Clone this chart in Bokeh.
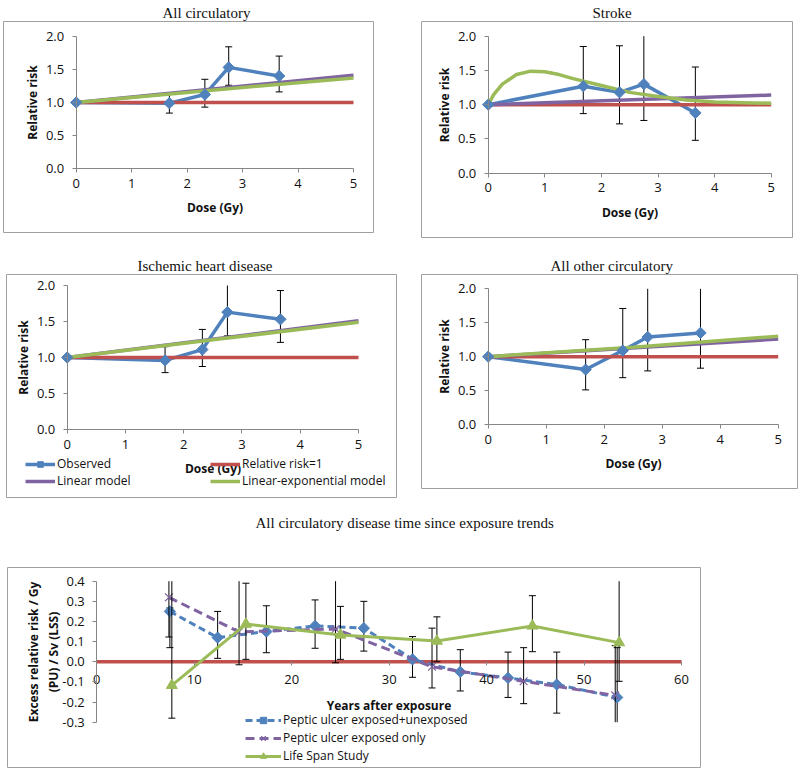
import numpy as np
from bokeh.plotting import figure
from bokeh.models import Range1d, Legend, LegendItem, FixedTicker, NumeralTickFormatter, Title
from bokeh.layouts import column, row
from bokeh.embed import file_html
from bokeh.resources import INLINE

BLUE = "#4F81BD"; RED = "#C0504D"; PURPLE = "#8064A2"; GREEN = "#9BBB59"
AXIS = "#868686"; BORDER = "#A0A0A0"
FONT = "Open Sans"; TFONT = "Liberation Serif"

# ---------------- data: dose-response panels ----------------
dose = [0, 1.68, 2.32, 2.75, 3.66]
err_dose = [1.68, 2.32, 2.75, 3.66]
dose_ticks = [0, 1, 2, 3, 4, 5]
rr_ticks = [0.0, 0.5, 1.0, 1.5, 2.0]
ref_x = [0, 5]
ref_y = [1, 1]

# All circulatory
ac_obs = [1.0, 0.99, 1.12, 1.53, 1.40]
ac_lo = [0.84, 0.93, 1.26, 1.16]
ac_hi = [1.13, 1.35, 1.84, 1.70]
ac_lin_x = [0, 5]; ac_lin_y = [1.0, 1.41]
ac_le_x = [0, 2.5, 5]; ac_le_y = [1.0, 1.19, 1.37]

# Stroke
st_obs = [1.0, 1.27, 1.18, 1.30, 0.88]
st_lo = [0.87, 0.72, 0.77, 0.48]
st_hi = [1.85, 1.86, 2.05, 1.55]
st_lin_x = [0, 5]; st_lin_y = [1.0, 1.14]
st_le_x = [0, 0.1, 0.25, 0.5, 0.75, 1.0, 1.25, 1.5, 2.0, 2.5, 3.0, 3.5, 4.0, 4.5, 5.0]
st_le_y = [1.00, 1.15, 1.30, 1.44, 1.49, 1.48, 1.44, 1.38, 1.28, 1.18, 1.12, 1.07, 1.04, 1.03, 1.02]

# Ischemic heart disease
ih_obs = [1.0, 0.96, 1.11, 1.63, 1.53]
ih_lo = [0.79, 0.875, 1.30, 1.21]
ih_hi = [1.15, 1.39, 2.02, 1.93]
ih_lin_x = [0, 5]; ih_lin_y = [1.0, 1.51]
ih_le_x = [0, 2.5, 5]; ih_le_y = [1.0, 1.245, 1.49]

# All other circulatory
ao_obs = [1.0, 0.81, 1.09, 1.29, 1.35]
ao_lo = [0.51, 0.69, 0.79, 0.83]
ao_hi = [1.25, 1.71, 2.3, 2.4]
ao_lin_x = [0, 5]; ao_lin_y = [1.0, 1.26]
ao_le_x = [0, 2.5, 5]; ao_le_y = [1.0, 1.14, 1.30]

# ---------------- data: time since exposure ----------------
year_ticks = [0, 10, 20, 30, 40, 50, 60]
err_ticks = [-0.3, -0.2, -0.1, 0.0, 0.1, 0.2, 0.3, 0.4]
zero_x = [0, 60]; zero_y = [0, 0]

pu_all_x = [7.5, 12.4, 17.4, 22.4, 27.4, 32.4, 37.3, 42.2, 47.2, 53.4]
pu_all_y = [0.25, 0.12, 0.15, 0.178, 0.167, 0.012, -0.05, -0.08, -0.113, -0.177]
pu_all_lo = [0.07, 0.017, 0.045, 0.067, 0.053, -0.077, -0.145, -0.177, -0.255, -0.40]
pu_all_hi = [0.267, 0.25, 0.278, 0.307, 0.30, 0.125, 0.06, 0.048, 0.048, 0.07]

pu_exp_x = [7.4, 14.6, 24.5, 34.4, 43.8, 53.2]
pu_exp_y = [0.32, 0.148, 0.163, -0.025, -0.097, -0.167]
pu_exp_lo = [0.123, -0.015, -0.005, -0.13, -0.208, -0.40]
pu_exp_hi = [0.45, 0.45, 0.45, 0.167, 0.07, 0.08]

lss_x = [7.7, 15.3, 25.0, 34.9, 44.7, 53.6]
lss_y = [-0.117, 0.187, 0.133, 0.103, 0.178, 0.095]
lss_lo = [-0.28, 0.012, 0.012, 0.0, 0.05, -0.097]
lss_hi = [0.45, 0.39, 0.275, 0.223, 0.328, 0.45]


def xrange_px(f0, f1, p0, p1, d0, d1):
    s = (p1 - p0) / (d1 - d0)
    return Range1d(d0 - (p0 - f0) / s, d1 + (f1 - p1) / s)


def yrange_px(top, bottom, py_hi, py_lo, d_lo, d_hi):
    s = (py_lo - py_hi) / (d_hi - d_lo)
    return Range1d(d_lo - (bottom - py_lo) / s, d_hi + (py_hi - top) / s)


def add_title(p, text, offset, standoff):
    p.add_layout(Title(text=text, text_font=TFONT, text_font_size="15px",
                       text_font_style="normal", text_color="#111111",
                       align="left", offset=offset, standoff=standoff), "above")


def make_fig(width, height, border_left, border_top, xr, yr):
    p = figure(width=width, height=height, min_border_left=border_left, min_border_right=1,
               min_border_top=border_top, min_border_bottom=1,
               x_range=xr, y_range=yr,
               output_backend="svg", toolbar_location=None)
    p.grid.visible = False
    p.outline_line_color = BORDER
    p.outline_line_width = 1
    p.background_fill_color = "white"
    p.border_fill_color = "white"
    for ax in (p.xaxis, p.yaxis):
        ax.fixed_location = 0
        ax.axis_line_color = AXIS
        ax.major_tick_line_color = AXIS
        ax.minor_tick_line_color = None
        ax.major_tick_out = 4
        ax.major_tick_in = 0
        ax.major_label_text_font = FONT
        ax.major_label_text_font_size = "13px"
        ax.major_label_text_color = "#111111"
        ax.axis_label_text_font = FONT
        ax.axis_label_text_font_size = "12px"
        ax.axis_label_text_font_style = "bold"
        ax.axis_label_text_color = "#111111"
    return p


def error_bars(p, x, lo, hi, ymin, ymax, cap=7):
    x = np.asarray(x, float); lo = np.asarray(lo, float); hi = np.asarray(hi, float)
    p.segment(x0=x, y0=np.maximum(lo, ymin), x1=x, y1=np.minimum(hi, ymax),
              line_color="black", line_width=1)
    for v in (lo, hi):
        ok = (v >= ymin) & (v <= ymax)
        p.scatter(x=x[ok], y=v[ok], marker="dash", size=cap, line_color="black", line_width=1)


def dose_panel(obs, lo, hi, lin_x, lin_y, le_x, le_y, width, height, bleft, btop,
               fx0, fx1, px0, px5, fy0, fy1, py2, py0, title, toff, legend=False):
    p = make_fig(width, height, bleft, btop,
                 xrange_px(fx0, fx1, px0, px5, 0, 5),
                 yrange_px(fy0, fy1, py2, py0, 0, 2))
    add_title(p, title, toff, 2)
    p.xaxis.bounds = (0, 5)
    p.yaxis.bounds = (0, 2)
    p.xaxis.ticker = FixedTicker(ticks=dose_ticks)
    p.yaxis.ticker = FixedTicker(ticks=rr_ticks)
    p.yaxis.formatter = NumeralTickFormatter(format="0.0")
    p.xaxis.axis_label = "Dose (Gy)"
    p.yaxis.axis_label = "Relative risk"
    p.xaxis.major_label_standoff = 6
    p.xaxis.axis_label_standoff = 8
    p.yaxis.major_label_standoff = 8
    p.yaxis.axis_label_standoff = 2

    ol = p.line(dose, obs, line_color=BLUE, line_width=3.5)
    error_bars(p, err_dose, lo, hi, 0, 2)
    rl = p.line(ref_x, ref_y, line_color=RED, line_width=3.5)
    ll = p.line(lin_x, lin_y, line_color=PURPLE, line_width=3.5)
    gl = p.line(le_x, le_y, line_color=GREEN, line_width=3.5)
    om = p.scatter(dose, obs, marker="square", angle=np.pi / 4, size=8,
                   fill_color=BLUE, line_color=BLUE)
    if legend:
        common = dict(border_line_color=None, background_fill_alpha=0, padding=0, margin=0,
                      spacing=0, label_height=14, glyph_height=14, glyph_width=30,
                      label_standoff=2, label_text_font=FONT, label_text_font_size="12px",
                      label_text_color="#111111")
        l1 = Legend(items=[LegendItem(label="Observed", renderers=[ol, om]),
                           LegendItem(label="Linear model", renderers=[ll])],
                    location=(19, 8), **common)
        l2 = Legend(items=[LegendItem(label="Relative risk=1", renderers=[rl]),
                           LegendItem(label="Linear-exponential model", renderers=[gl])],
                    location=(204, 8), **common)
        p.add_layout(l1)
        p.add_layout(l2)
    return p


# page-pixel geometry of each chart box (frame) and of its axis origins
p1 = dose_panel(ac_obs, ac_lo, ac_hi, ac_lin_x, ac_lin_y, ac_le_x, ac_le_y,
                374, 233, 3, 21, 3, 373, 75.7, 353, 21, 232, 35.7, 168.3,
                "All circulatory", 159)
p2 = dose_panel(st_obs, st_lo, st_hi, st_lin_x, st_lin_y, st_le_x, st_le_y,
                373, 238, 1, 21, 421, 792, 487.7, 770.7, 21, 237, 35.7, 172.7,
                "Stroke", 171)
p3 = dose_panel(ih_obs, ih_lo, ih_hi, ih_lin_x, ih_lin_y, ih_le_x, ih_le_y,
                397, 260, 6, 36, 6, 396, 66.7, 358, 274, 497, 285, 429,
                "Ischemic heart disease", 131, legend=True)
p4 = dose_panel(ao_obs, ao_lo, ao_hi, ao_lin_x, ao_lin_y, ao_le_x, ao_le_y,
                378, 251, 1, 36, 421, 797, 487.7, 777.7, 274, 488, 288.3, 424,
                "All other circulatory", 129)

# ---------------- bottom chart ----------------
pb = make_fig(701, 270, 7, 69, xrange_px(7, 700, 96.3, 681, 0, 60),
              yrange_px(567, 767, 580.7, 721.7, -0.3, 0.4))
pb.add_layout(Title(text=" ", text_font_size="1px", standoff=33), "above")
add_title(pb, "All circulatory disease time since exposure trends", 248, 2)
pb.xaxis.bounds = (0, 60)
pb.yaxis.bounds = (-0.3, 0.4)
pb.xaxis.ticker = FixedTicker(ticks=year_ticks)
pb.yaxis.ticker = FixedTicker(ticks=err_ticks)
pb.yaxis.formatter = NumeralTickFormatter(format="0.0")
pb.xaxis.axis_line_color = None
pb.xaxis.axis_label = "Years after exposure"
pb.yaxis.axis_label = "Excess relative risk / Gy\n(PU) / Sv (LSS)"
pb.xaxis.major_label_standoff = 9
pb.xaxis.axis_label_standoff = 10
pb.yaxis.major_label_standoff = 8
pb.yaxis.axis_label_standoff = -3

pb.line(zero_x, zero_y, line_color=RED, line_width=3.5)
bl_ = pb.line(pu_all_x, pu_all_y, line_color=BLUE, line_width=3, line_dash="7 4")
error_bars(pb, pu_all_x, pu_all_lo, pu_all_hi, -0.3, 0.4)
bm_ = pb.scatter(pu_all_x, pu_all_y, marker="square", angle=np.pi / 4, size=8,
                 fill_color=BLUE, line_color=BLUE)
pl_ = pb.line(pu_exp_x, pu_exp_y, line_color=PURPLE, line_width=3, line_dash="9 5")
error_bars(pb, pu_exp_x, pu_exp_lo, pu_exp_hi, -0.3, 0.4)
pm_ = pb.scatter(pu_exp_x, pu_exp_y, marker="x", size=11, line_color=PURPLE, line_width=1.2)
gl_ = pb.line(lss_x, lss_y, line_color=GREEN, line_width=3)
error_bars(pb, lss_x, lss_lo, lss_hi, -0.3, 0.4)
gm_ = pb.scatter(lss_x, lss_y, marker="triangle", size=11, fill_color=GREEN, line_color=GREEN)

lb = Legend(items=[LegendItem(label="Peptic ulcer exposed+unexposed", renderers=[bl_, bm_]),
                   LegendItem(label="Peptic ulcer exposed only", renderers=[pl_, pm_]),
                   LegendItem(label="Life Span Study", renderers=[gl_, gm_])],
            location=(238, 3), border_line_color=None, background_fill_alpha=0,
            padding=0, margin=0, spacing=1, label_height=16, glyph_height=16,
            glyph_width=36, label_standoff=2, label_text_font=FONT,
            label_text_font_size="12px", label_text_color="#111111")
pb.add_layout(lb)

# ---------------- layout ----------------
row1 = row(p1, p2, spacing=46)
row2 = row(p3, p4, spacing=23)
layout = column(row1, row2, pb, spacing=0)

open("out.html", "w").write(file_html(layout, INLINE))
